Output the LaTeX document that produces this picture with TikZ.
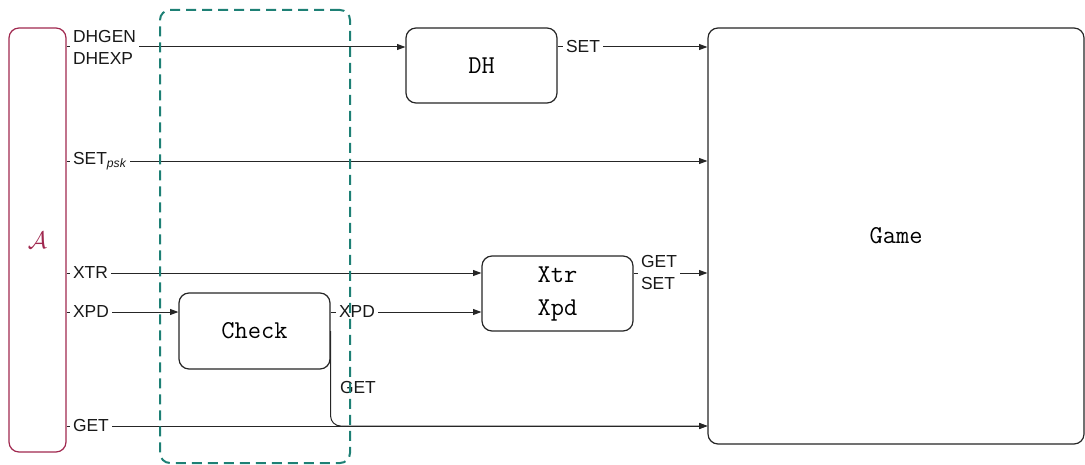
\documentclass[tikz,border=0pt]{standalone}
\usepackage{fontspec}
\newfontfamily\lblfont{Liberation Sans}
\usetikzlibrary{arrows.meta}
\definecolor{advcol}{HTML}{A0284F}
\definecolor{boxteal}{HTML}{1E8075}
\tikzset{
  box/.style={draw=black!85, line width=0.6pt, rounded corners=5pt, fill=white,
    font=\fontsize{12.85}{16.5}\selectfont\ttfamily, align=center},
  arr/.style={-{Triangle[length=4.2pt,width=3pt]}, line width=0.5pt, draw=black!85},
  lbl/.style={fill=white, inner xsep=1.5pt, inner ysep=0.6pt,
    font=\fontsize{8.7}{11}\selectfont\lblfont, align=left, text=black!90}
}
\begin{document}
\begin{tikzpicture}[x=0.5pt, y=-0.5pt]
\useasboundingbox (0,0) rectangle (1085,465);

% adversary, components and the game
\node[box, draw=advcol, minimum width=28.5pt, minimum height=212pt] (A) at (37.5,240)
  {\fontsize{13}{15}\selectfont\color{advcol}$\mathcal{A}$};
\node[box, minimum width=75.5pt, minimum height=37.5pt] (DH) at (481.5,65.5) {DH};
\node[box, minimum width=75.5pt, minimum height=37.5pt] (XX) at (557.5,293.5) {Xtr\\Xpd};
\node[box, minimum width=75.5pt, minimum height=38pt] (CK) at (254.5,331) {Check};
\node[box, minimum width=188pt, minimum height=208pt] (G) at (896,236) {Game};

% oracle rows
\coordinate (r1) at (0,47);
\coordinate (r2) at (0,161);
\coordinate (r3) at (0,273);
\coordinate (r4) at (0,312);
\coordinate (r5) at (0,426);

\draw[arr] (A.east |- r1) -- node[lbl, pos=0, anchor=west, xshift=1.5pt] {DHGEN\\DHEXP} (DH.west |- r1);
\draw[arr] (DH.east |- r1) -- node[lbl, pos=0, anchor=west, xshift=2.5pt] {SET} (G.west |- r1);
\draw[arr] (A.east |- r2) -- node[lbl, pos=0, anchor=west, xshift=1.5pt] {SET\textsubscript{\itshape psk}} (G.west |- r2);
\draw[arr] (A.east |- r3) -- node[lbl, pos=0, anchor=west, xshift=1.5pt] {XTR} (XX.west |- r3);
\draw[arr] (A.east |- r4) -- node[lbl, pos=0, anchor=west, xshift=1.5pt] {XPD} (CK.west |- r4);
\draw[arr] (CK.east |- r4) -- node[lbl, pos=0, anchor=west, xshift=2.5pt] {XPD} (XX.west |- r4);
\draw[arr] (XX.east |- r3) -- node[lbl, pos=0, anchor=west, xshift=2pt] {GET\\SET} (G.west |- r3);
\draw[arr] (A.east |- r5) -- node[lbl, pos=0, anchor=west, xshift=1.5pt] {GET} (G.west |- r5);
\draw[arr, rounded corners=5pt] (CK.east) -- node[lbl, fill=none, pos=0.6, anchor=west, xshift=3pt] {GET} (CK.east |- r5) -- (G.west |- r5);

% wrapper around the check
\node[draw=boxteal, line width=1pt, dash pattern=on 5pt off 3pt, rounded corners=5pt,
  minimum width=95pt, minimum height=226.5pt] (W) at (255,236.5) {};
\end{tikzpicture}
\end{document}
